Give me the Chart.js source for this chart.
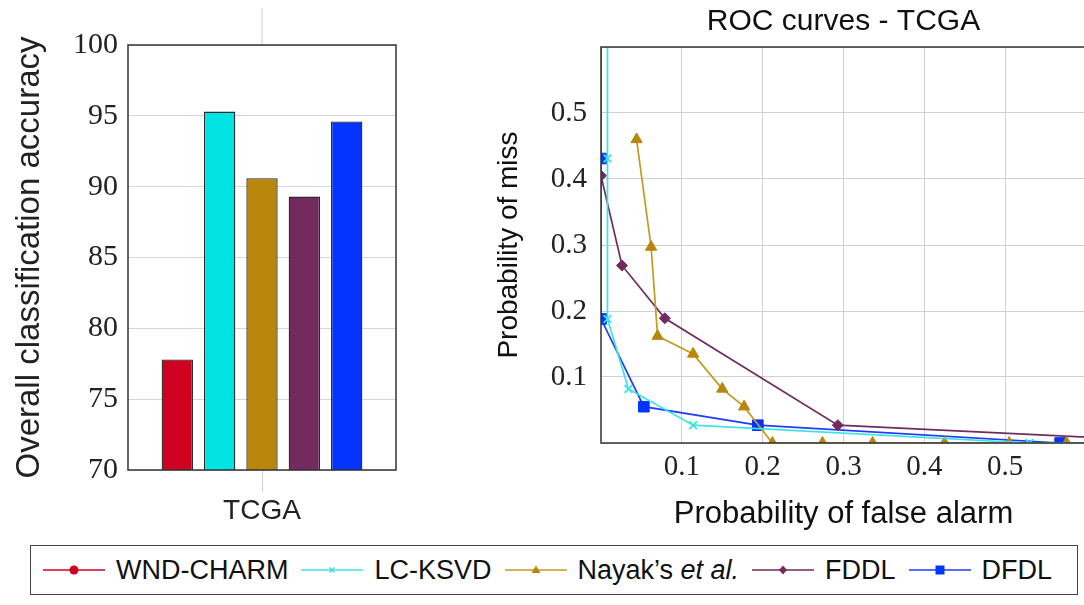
<!DOCTYPE html>
<html>
<head>
<meta charset="utf-8">
<script src="https://cdn.jsdelivr.net/npm/chart.js@4"></script>
<style>
  html, body { margin: 0; padding: 0; background: #fff; overflow: hidden; width: 1084px; height: 605px; }
  #barWrap { position: absolute; left: 0; top: 0; }
  #rocWrap { position: absolute; left: 480px; top: 0; }
  #legend {
    position: absolute; left: 30px; top: 545px; width: 1048px; height: 50px;
    border: 1.5px solid #444; box-sizing: border-box;
    display: flex; align-items: center; padding-left: 12px;
    font-family: "Liberation Sans", Arial, sans-serif; font-size: 27px; color: #111;
  }
  #legend .item { display: flex; align-items: center; margin-right: 13px; }
  #legend svg { margin-right: 11px; }
</style>
</head>
<body>
<div id="barWrap"><canvas id="barChart" width="400" height="530"></canvas></div>
<div id="rocWrap"><canvas id="rocChart" width="620" height="530"></canvas></div>
<div id="legend"></div>

<script>
// ===== DATA =====
const methods = ["WND-CHARM", "LC-KSVD", "Nayak's et al.", "FDDL", "DFDL"];
const datasetName = ["TCGA"];
const accuracy = [77.8, 95.3, 90.6, 89.3, 94.6];

// ROC points (x = prob. of false alarm, y = prob. of miss)
const lcksvdX = [0.008, 0.008, 0.008, 0.034, 0.114, 0.53, 0.65];
const lcksvdY = [0.65, 0.431, 0.188, 0.082, 0.027, 0.0, 0.0];
const nayakX = [0.044, 0.062, 0.070, 0.114, 0.150, 0.177, 0.212, 0.274, 0.336, 0.425, 0.505, 0.576, 0.65];
const nayakY = [0.46, 0.297, 0.162, 0.135, 0.082, 0.055, 0.0, 0.0, 0.0, 0.0, 0.0, 0.0, 0.0];
const fddlX = [0.0, 0.026, 0.079, 0.293, 0.75];
const fddlY = [0.405, 0.269, 0.189, 0.027, 0.0];
const dfdlX = [0.0, 0.0, 0.0, 0.053, 0.194, 0.568, 0.65];
const dfdlY = [0.65, 0.431, 0.188, 0.055, 0.027, 0.0, 0.0];

const xTicks = [0.1, 0.2, 0.3, 0.4, 0.5];
const yTicks = [0.1, 0.2, 0.3, 0.4, 0.5];

// ===== STYLE =====
const barColors = ["#cf0020", "#00e3e3", "#b8860b", "#722a5f", "#0334ff"];
const lineColors = ["#cf0020", "#3ee3e3", "#c49a1c", "#6e2d5e", "#1f3cff"];
const markers = ["circle", "crossRot", "triangle", "rectRot", "rect"];
const markerSize = [5, 5.5, 6.5, 5.5, 7.5];

const serif = "'Liberation Serif', 'Times New Roman', serif";
const sans = "'Liberation Sans', Arial, sans-serif";

function toPoints(xs, ys) {
  return xs.map((x, i) => ({ x: x, y: ys[i] }));
}

// full box around plot area + grid line stub above the bar group
const boxPlugin = {
  id: "box",
  afterDraw(chart, args, opts) {
    const ctx = chart.ctx, a = chart.chartArea;
    ctx.save();
    if (opts.stub) {
      const xp = chart.scales.x.getPixelForValue(0);
      ctx.strokeStyle = "#cfcfcf";
      ctx.lineWidth = 1;
      ctx.beginPath();
      ctx.moveTo(xp, 8);
      ctx.lineTo(xp, a.top);
      ctx.stroke();
    }
    ctx.strokeStyle = "#333";
    ctx.lineWidth = 1.5;
    ctx.strokeRect(a.left, a.top, a.right - a.left, a.bottom - a.top);
    ctx.restore();
  }
};

// ===== BAR CHART =====
new Chart(document.getElementById("barChart"), {
  type: "bar",
  data: {
    labels: datasetName,
    datasets: methods.map((m, i) => ({
      label: m,
      data: [accuracy[i]],
      backgroundColor: barColors[i],
      borderColor: "#2a2a2a",
      borderWidth: 1.3,
      categoryPercentage: 0.79,
      barPercentage: 0.74
    }))
  },
  options: {
    responsive: false,
    animation: false,
    layout: { padding: { top: 45, right: 4, left: 0, bottom: 0 } },
    plugins: { legend: { display: false }, tooltip: { enabled: false }, box: { stub: true } },
    scales: {
      x: {
        grid: { offset: false, drawOnChartArea: false, drawTicks: true, tickLength: 22, color: "#cfcfcf" },
        border: { display: false },
        ticks: { color: "#222", padding: 2, font: { family: sans, size: 28 } },
        afterFit(s) { s.height = 60; }
      },
      y: {
        min: 70, max: 100,
        grid: { color: "#d6d6d6", drawTicks: false },
        border: { display: false },
        ticks: { stepSize: 5, color: "#222", padding: 10, font: { family: serif, size: 30 } },
        title: { display: true, text: "Overall classification accuracy", color: "#222",
                 font: { family: sans, size: 33, lineHeight: 1.2 }, padding: { top: 10, bottom: 0 } },
        afterFit(s) { s.width = 128; }
      }
    }
  },
  plugins: [boxPlugin]
});

// ===== ROC CHART =====
const rocX = [null, lcksvdX, nayakX, fddlX, dfdlX];
const rocY = [null, lcksvdY, nayakY, fddlY, dfdlY];
const rocSets = [];
for (let i = 1; i < methods.length; i++) {
  rocSets.push({
    label: methods[i],
    data: toPoints(rocX[i], rocY[i]),
    borderColor: lineColors[i],
    backgroundColor: barColors[i],
    pointBorderColor: i === 1 ? lineColors[i] : barColors[i],
    pointBackgroundColor: barColors[i],
    pointStyle: markers[i],
    pointRadius: markerSize[i],
    pointBorderWidth: i === 1 ? 1.8 : 1,
    borderWidth: 1.7,
    tension: 0,
    showLine: true
  });
}

new Chart(document.getElementById("rocChart"), {
  type: "scatter",
  data: { datasets: rocSets },
  options: {
    responsive: false,
    animation: false,
    layout: { padding: { top: 0, right: 14, left: 0, bottom: 0 } },
    plugins: {
      legend: { display: false },
      tooltip: { enabled: false },
      title: { display: true, text: "ROC curves - TCGA", fullSize: false, color: "#111",
               font: { family: sans, size: 30, weight: "normal", lineHeight: 1.2 }, padding: { top: 4, bottom: 7 } },
      box: { stub: false }
    },
    scales: {
      x: {
        type: "linear", min: 0, max: 0.6,
        grid: { color: "#d0d0d0", drawTicks: false },
        border: { display: false },
        afterBuildTicks(s) { s.ticks = xTicks.map(v => ({ value: v })); },
        ticks: { color: "#222", padding: 7, font: { family: serif, size: 29 } },
        title: { display: true, text: "Probability of false alarm", color: "#111",
                 font: { family: sans, size: 31, lineHeight: 1 }, padding: { top: 0, bottom: 0 } },
        afterFit(s) { s.height = 87; }
      },
      y: {
        type: "linear", min: 0, max: 0.6,
        grid: { color: "#d0d0d0", drawTicks: false },
        border: { display: false },
        afterBuildTicks(s) { s.ticks = [0].concat(yTicks, [0.6]).map(v => ({ value: v })); },
        ticks: { color: "#222", padding: 14, font: { family: serif, size: 29 },
                 callback: v => (yTicks.includes(Math.round(v * 10) / 10) ? v : "") },
        title: { display: true, text: "Probability of miss", color: "#111",
                 font: { family: sans, size: 28, lineHeight: 1.2 }, padding: { top: 12, bottom: 0 } },
        afterFit(s) { s.width = 121; }
      }
    }
  },
  plugins: [boxPlugin]
});

// ===== LEGEND =====
function markerSvg(i) {
  const c = barColors[i], l = lineColors[i];
  let m = "";
  if (markers[i] === "circle") m = `<circle cx="31" cy="10" r="4.5" fill="${c}"/>`;
  if (markers[i] === "crossRot") m = `<path d="M28.5 7.5 L33.5 12.5 M33.5 7.5 L28.5 12.5" stroke="${l}" stroke-width="1.6"/>`;
  if (markers[i] === "triangle") m = `<path d="M31 5.5 L35.5 13 L26.5 13 Z" fill="${c}"/>`;
  if (markers[i] === "rectRot") m = `<path d="M31 5.5 L35 10 L31 14.5 L27 10 Z" fill="${c}"/>`;
  if (markers[i] === "rect") m = `<rect x="26.5" y="5.5" width="9" height="9" fill="${c}"/>`;
  return `<svg width="62" height="20"><line x1="0" y1="10" x2="62" y2="10" stroke="${l}" stroke-width="1.5"/>${m}</svg>`;
}
const legendEl = document.getElementById("legend");
methods.forEach((m, i) => {
  const label = m === "Nayak's et al." ? "Nayak\u2019s <i>et al.</i>" : m;
  legendEl.innerHTML += `<div class="item">${markerSvg(i)}<span>${label}</span></div>`;
});
</script>
</body>
</html>
